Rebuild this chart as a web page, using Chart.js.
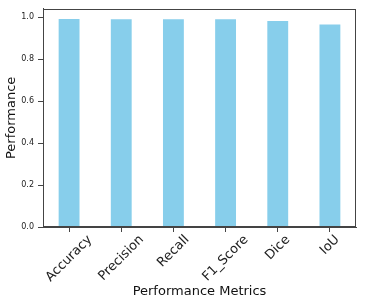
<!DOCTYPE html>
<html>
<head>
<meta charset="utf-8">
<script src="https://cdn.jsdelivr.net/npm/chart.js@4"></script>
<style>
  html, body { margin: 0; padding: 0; background: #fff; }
  #wrap { width: 368px; height: 306px; }
</style>
</head>
<body>
<div id="wrap"><canvas id="barChart" width="368" height="306"></canvas></div>
<script>
  // ── DATA ──
  const metrics = ['Accuracy', 'Precision', 'Recall', 'F1_Score', 'Dice', 'IoU'];
  const scores = [0.991, 0.990, 0.990, 0.990, 0.981, 0.965];
  const yTicks = [0.0, 0.2, 0.4, 0.6, 0.8, 1.0];

  const FONT = "'DejaVu Sans', sans-serif";

  // box around the plot, like matplotlib spines
  const framePlugin = {
    id: 'frame',
    afterDraw(chart) {
      const { ctx, chartArea: a } = chart;
      ctx.save();
      ctx.strokeStyle = '#444';
      ctx.lineWidth = 1;
      ctx.strokeRect(Math.round(a.left) + 0.5, Math.round(a.top) + 0.5,
        Math.round(a.right - a.left) - 1, Math.round(a.bottom - a.top) - 1);
      ctx.restore();
    }
  };

  // rotated x labels, centred on the tick (matplotlib ha='center')
  const xLabelPlugin = {
    id: 'xLabels',
    afterDraw(chart) {
      const { ctx } = chart;
      const xs = chart.scales.x;
      const size = 13;
      const c = Math.cos(Math.PI / 4);
      ctx.save();
      ctx.font = size + 'px ' + FONT;
      ctx.fillStyle = '#222';
      ctx.textAlign = 'center';
      ctx.textBaseline = 'middle';
      metrics.forEach((m, i) => {
        const x = xs.getPixelForValue(i);
        const w = ctx.measureText(m).width;
        const half = (w + size) * c / 2;
        const cy = xs.top + 6 + half;
        ctx.save();
        ctx.translate(x, cy);
        ctx.rotate(-Math.PI / 4);
        ctx.fillText(m, 0, 0);
        ctx.restore();
      });
      ctx.restore();
    }
  };

  const ctx = document.getElementById('barChart').getContext('2d');
  new Chart(ctx, {
    type: 'bar',
    data: {
      labels: metrics,
      datasets: [{
        label: 'Performance',
        data: scores,
        backgroundColor: '#87CEEB',
        barPercentage: 0.4,
        categoryPercentage: 1.0
      }]
    },
    options: {
      responsive: false,
      animation: false,
      layout: { padding: { top: 5, right: 12, left: 0, bottom: 0 } },
      plugins: { legend: { display: false }, tooltip: { enabled: false } },
      scales: {
        x: {
          offset: true,
          grid: { offset: false, drawOnChartArea: false, drawTicks: true, tickLength: 5, color: '#444' },
          border: { color: '#444' },
          ticks: { display: false },
          title: {
            display: true, text: 'Performance Metrics', color: '#111',
            font: { family: FONT, size: 13 }, padding: { top: 0, bottom: 7 }
          },
          afterFit(s) { s.height = 79; }
        },
        y: {
          min: 0,
          max: 1.0395,
          grid: { drawOnChartArea: false, drawTicks: true, tickLength: 5, color: '#444' },
          border: { color: '#444' },
          ticks: {
            color: '#222', padding: 4,
            font: { family: FONT, size: 8 },
            callback: v => v.toFixed(1)
          },
          afterBuildTicks(s) { s.ticks = yTicks.map(v => ({ value: v })); },
          title: {
            display: true, text: 'Performance', color: '#111',
            font: { family: FONT, size: 13 }, padding: { top: 4, bottom: 0 }
          },
          afterFit(s) { s.width = 43; }
        }
      }
    },
    plugins: [framePlugin, xLabelPlugin]
  });
</script>
</body>
</html>
